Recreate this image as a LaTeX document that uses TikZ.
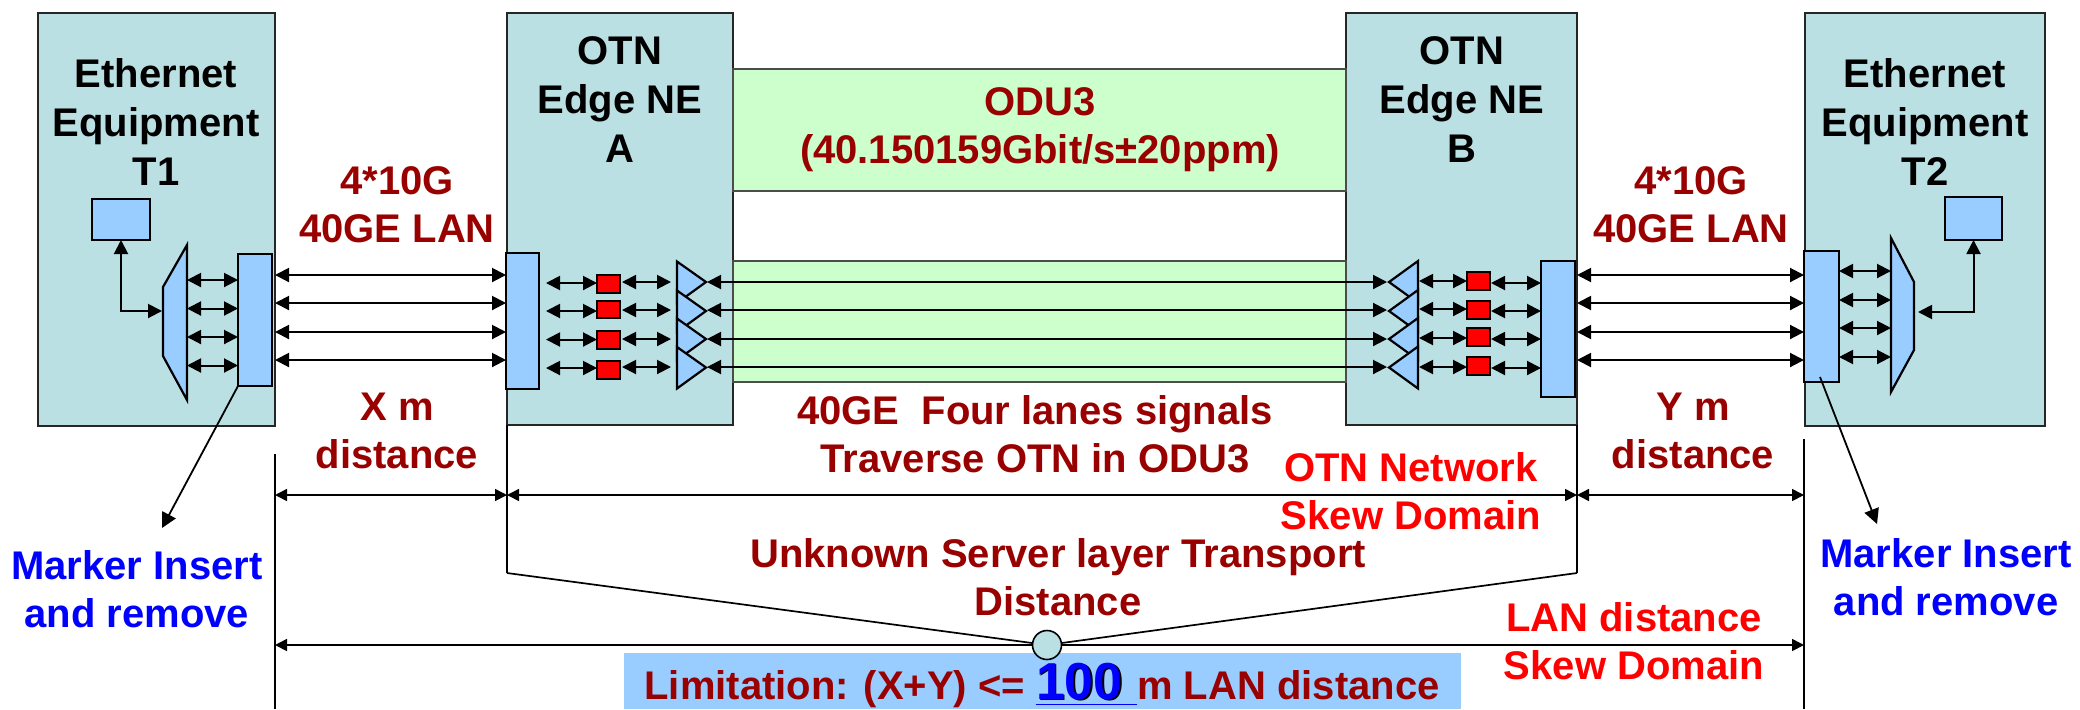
\documentclass[tikz,border=0pt]{standalone}
\usepackage{fontspec}
\setmainfont{Liberation Sans}
\usetikzlibrary{arrows.meta,shapes.geometric}
\definecolor{boxteal}{HTML}{BBE0E3}
\definecolor{portblue}{HTML}{99CCFF}
\definecolor{bandgreen}{HTML}{CCFFCC}
\definecolor{darkred}{HTML}{990000}
\newcommand{\pxbox}[6]{\node[#2,anchor=north west,minimum width={(#5-#3)*0.5},minimum height={(#6-#4)*0.5}] (#1) at (#3,#4) {};}
\tikzset{
  plain/.style={rectangle,inner sep=0pt,outer sep=0pt},
  equip/.style={plain,fill=boxteal,draw=black!85,line width=0.9pt},
  band/.style={plain,fill=bandgreen,draw=black!70,line width=0.6pt},
  portbox/.style={plain,fill=portblue,draw=black,line width=1.3pt},
  smallbox/.style={plain,fill=portblue,draw=black,line width=1pt},
  redbox/.style={plain,fill=red,draw=black,line width=1pt},
  shapeline/.style={fill=portblue,draw=black,line width=1.1pt,line join=miter},
  conn/.style={line width=1pt,{Triangle[length=7pt,width=7pt]}-{Triangle[length=7pt,width=7pt]}},
  onetip/.style={line width=0.9pt,-{Triangle[length=7.5pt,width=7.5pt]}},
  dimline/.style={line width=0.8pt,{Triangle[length=6pt,width=6pt]}-{Triangle[length=6pt,width=6pt]}},
  rule/.style={line width=0.85pt},
  txt/.style={inner sep=0pt,align=center,font=\fontsize{20}{24}\selectfont\bfseries},
  blacktxt/.style={txt,text=black,font=\fontsize{20}{24.5}\selectfont\bfseries},
  maroon/.style={txt,text=darkred},
  hotred/.style={txt,text=red},
  bluetxt/.style={txt,text=blue}
}
\begin{document}
\begin{tikzpicture}[x=0.5pt,y=-0.5pt]
\useasboundingbox (0,0) rectangle (2080,709);
% main boxes
\pxbox{t1}{equip}{38}{13}{275}{426}
\pxbox{abox}{equip}{507}{13}{733}{425}
\pxbox{bbox}{equip}{1346}{13}{1577}{425}
\pxbox{t2}{equip}{1805}{13}{2045}{426}
\pxbox{oduband}{band}{733}{69}{1346}{191}
\pxbox{laneband}{band}{733}{261}{1346}{382}
% ports
\pxbox{t1small}{smallbox}{92}{199}{150}{240}
\pxbox{t2small}{smallbox}{1945}{197}{2002}{240}
\pxbox{t1port}{portbox}{238}{254}{272}{386}
\pxbox{aport}{portbox}{506}{253}{539}{389}
\pxbox{bport}{portbox}{1541}{261}{1575}{397}
\pxbox{t2port}{portbox}{1804}{251}{1839}{382}
% red boxes
\pxbox{ared1}{redbox}{597}{275}{620}{293}
\pxbox{ared2}{redbox}{597}{301}{620}{318}
\pxbox{ared3}{redbox}{597}{331}{620}{349}
\pxbox{ared4}{redbox}{597}{361}{620}{379}
\pxbox{bred1}{redbox}{1467}{272}{1490}{290}
\pxbox{bred2}{redbox}{1467}{301}{1490}{319}
\pxbox{bred3}{redbox}{1467}{328}{1490}{346}
\pxbox{bred4}{redbox}{1467}{357}{1490}{375}
% trapezoids
\draw[shapeline] (163,287) -- (187,245) -- (187,400) -- (163,356) -- cycle;
\draw[shapeline] (1914,282) -- (1891,238) -- (1891,392) -- (1914,350) -- cycle;
\coordinate (t1trapE) at (187,311);
\coordinate (t1trapW) at (162,311);
\coordinate (t2trapW) at (1891,311);
\coordinate (t2trapE) at (1918,312);
% triangles
\foreach \t in {282,311,339,367.5}{
  \draw[shapeline] (677,\t-20.5) -- (706,\t) -- (677,\t+21) -- cycle;
  \draw[shapeline] (1418,\t-21) -- (1389,\t) -- (1418,\t+21) -- cycle;
}
\coordinate (atip) at (707,282);
\coordinate (abase) at (675,282);
\coordinate (btip) at (1387,282);
\coordinate (bbase) at (1419,282);
% outer lanes
\foreach \r in {275,303,332,360}{
  \draw[conn] (t1.east |- 0,\r) -- (aport.west |- 0,\r);
  \draw[conn] (bbox.east |- 0,\r) -- (t2port.west |- 0,\r);
}
% lanes through the ODU3 band
\foreach \r in {282,310,339,367}{
  \draw[conn] (atip |- 0,\r) -- (btip |- 0,\r);
}
% inner lanes T1 and T2
\foreach \r in {280,308.5,337,365.5}{
  \draw[conn] (t1trapE |- 0,\r) -- (t1port.west |- 0,\r);
}
\foreach \r in {271,300,328,357}{
  \draw[conn] (t2port.east |- 0,\r) -- (t2trapW |- 0,\r);
}
% inner lanes A and B
\foreach \i/\p/\q in {1/283/282,2/311/310,3/339.5/339,4/368/367}{
  \draw[conn,shorten <=3.5pt] (aport.east |- 0,\p) -- (ared\i.west |- 0,\p);
  \draw[conn,shorten >=2pt,shorten <=1pt] (ared\i.east |- 0,\q) -- (abase |- 0,\q);
}
\foreach \i/\p/\q in {1/281/283,2/309/311,3/338/339,4/367/368}{
  \draw[conn] (bbase |- 0,\p) -- (bred\i.west |- 0,\p);
  \draw[conn,shorten <=0.5pt] (bred\i.east |- 0,\q) -- (bport.west |- 0,\q);
}
% equipment links
\draw[conn] (t1small.south) |- (t1trapW);
\draw[conn] (t2small.south) |- (t2trapE);
% marker leaders
\coordinate (t1tip) at (162,528);
\coordinate (t2lead) at (1820,377);
\coordinate (t2tip) at (1877,524);
\draw[onetip] (t1port.south west) -- (t1tip);
\draw[onetip] (t2lead) -- (t2tip);
% distance rules
\coordinate (v1top) at (275,454);
\coordinate (v1bot) at (275,709);
\coordinate (v2top) at (1804,439);
\coordinate (v2bot) at (1804,709);
\coordinate (alow) at (507,573);
\coordinate (blow) at (1577,573);
\draw[rule] (v1top) -- (v1bot);
\draw[rule] (v2top) -- (v2bot);
\draw[rule] (abox.south west) -- (alow);
\draw[rule] (bbox.south east) -- (blow);
\draw[dimline] (v1top |- 0,495) -- (alow |- 0,495);
\draw[dimline] (alow |- 0,495) -- (blow |- 0,495);
\draw[dimline] (blow |- 0,495) -- (v2top |- 0,495);
\draw[dimline] (v1top |- 0,645) -- (v2top |- 0,645);
% limitation band
\pxbox{limband}{plain,fill=portblue}{624}{653}{1461}{709}
\node[txt,text=darkred,font=\fontsize{20}{24}\selectfont\bfseries,anchor=base] (limit) at (1042,699) {Limitation: (X+Y) <= {\color{blue}\underline{\rlap{\kern0.8pt\raisebox{-0.8pt}{\color{black}\fontsize{26}{28}\selectfont 100}}\fontsize{26}{28}\selectfont 100\ }}m LAN distance};
\node[circle,fill=boxteal,draw=black,line width=0.8pt,minimum size=14.5pt,inner sep=0pt,outer sep=0pt] (hub) at (1047,645) {};
\draw[rule] (alow) -- (hub);
\draw[rule] (blow) -- (hub);
% labels
\node[blacktxt] (t1label) at (156,122) {Ethernet\\Equipment\\T1};
\node[blacktxt] (alabel) at (620,99.5) {OTN\\Edge NE\\A};
\node[blacktxt] (blabel) at (1462,99.5) {OTN\\Edge NE\\B};
\node[blacktxt] (t2label) at (1925,122) {Ethernet\\Equipment\\T2};
\node[maroon] (lanl) at (397,205) {4*10G\\40GE LAN};
\node[maroon] (lanr) at (1691,205) {4*10G\\40GE LAN};
\node[maroon] (odu) at (1040,130) {ODU3\\(40.150159Gbit/s±20ppm)};
\node[maroon] (xdist) at (397,431) {X m\\distance};
\node[maroon] (ydist) at (1693,431) {Y m\\distance};
\node[maroon] (four) at (1035,434) {40GE\ \ Four lanes signals\\Traverse OTN in ODU3};
\node[maroon] (unk) at (1058,577) {Unknown Server layer Transport\\Distance};
\node[hotred] (otnskew) at (1411,491) {OTN Network\\Skew Domain};
\node[hotred] (lanskew) at (1634,641) {LAN distance\\Skew Domain};
\node[bluetxt] (mk1) at (137,589) {Marker Insert\\and remove};
\node[bluetxt] (mk2) at (1946,577) {Marker Insert\\and remove};
\end{tikzpicture}
\end{document}
